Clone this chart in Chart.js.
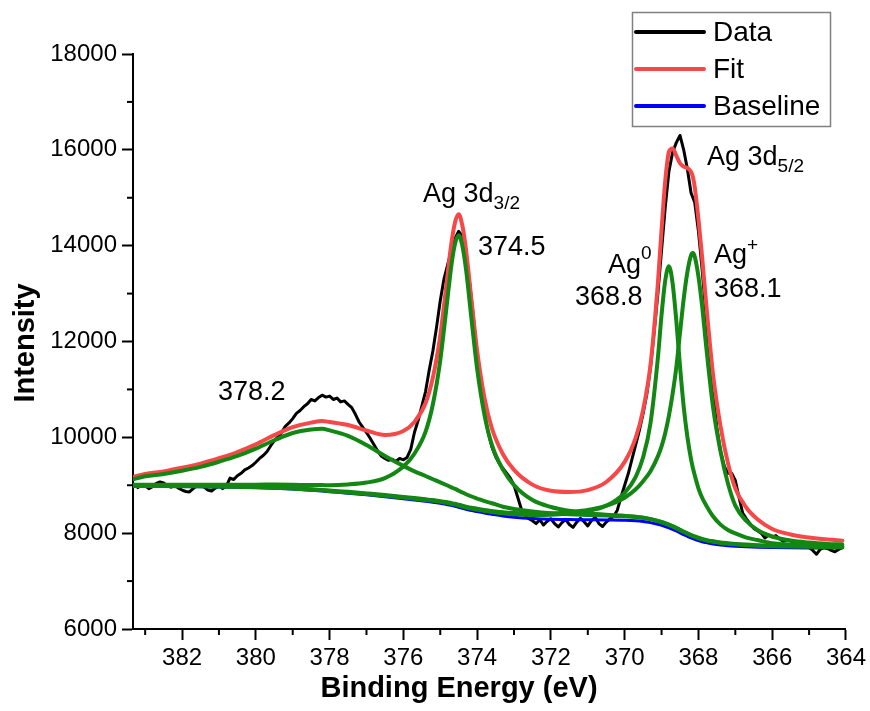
<!DOCTYPE html>
<html>
<head>
<meta charset="utf-8">
<script src="https://cdn.jsdelivr.net/npm/chart.js@4.4.1/dist/chart.umd.min.js"></script>
<style>
  html, body { margin: 0; padding: 0; background: #fff; }
  canvas { display: block; }
</style>
</head>
<body>
<canvas id="xps" width="870" height="711"></canvas>
<script>
// energies (eV) for the fitted curves
const fitEnergy = [383.3, 383, 382.5, 382, 381.5, 381, 380.5, 380, 379.5, 379,
  378.5, 378.2, 378, 377.5, 377, 376.5, 376, 375.7, 375.4, 375.2,
  375, 374.85, 374.7, 374.6, 374.5, 374.4, 374.3, 374.15, 374, 373.8,
  373.6, 373.3, 373, 372.5, 372, 371.5, 371, 370.5, 370, 369.7,
  369.5, 369.3, 369.1, 369, 368.9, 368.8, 368.7, 368.6, 368.5, 368.4,
  368.3, 368.2, 368.15, 368.1, 368, 367.9, 367.8, 367.6, 367.4, 367.2,
  367, 366.7, 366.4, 366, 365.5, 365, 364.5, 364.1];

const baseline = [8980, 8978, 8975, 8972, 8968, 8963, 8957, 8950, 8938, 8920,
  8895, 8878, 8865, 8835, 8800, 8762, 8720, 8692, 8665, 8645,
  8622, 8602, 8580, 8562, 8540, 8518, 8498, 8472, 8450, 8420,
  8395, 8360, 8333, 8305, 8290, 8284, 8280, 8276, 8270, 8260,
  8245, 8220, 8185, 8165, 8140, 8112, 8080, 8045, 8008, 7970,
  7935, 7900, 7885, 7870, 7845, 7822, 7803, 7774, 7752, 7737,
  7726, 7714, 7706, 7700, 7696, 7693, 7691, 7690];

const peak3782 = [9130, 9186, 9235, 9302, 9384, 9491, 9612, 9764, 9939, 10090,
  10164, 10178, 10144, 10031, 9840, 9612, 9404, 9290, 9193, 9126,
  9061, 9010, 8957, 8923, 8886, 8848, 8813, 8765, 8723, 8667,
  8624, 8552, 8505, 8451, 8415, 8396, 8380, 8367, 8352, 8338,
  8320, 8293, 8255, 8235, 8209, 8180, 8147, 8111, 8073, 8034,
  7998, 7962, 7946, 7931, 7905, 7881, 7861, 7831, 7807, 7791,
  7776, 7761, 7750, 7740, 7733, 7726, 7721, 7718];

const peak3745 = [9008, 9009, 9009, 9012, 9011, 9011, 9013, 9012, 9015, 9011,
  9003, 9003, 9001, 9017, 9056, 9148, 9390, 9658, 10113, 10690,
  11604, 12578, 13578, 14038, 14220, 13994, 13496, 12448, 11432, 10465,
  9843, 9326, 9003, 8691, 8546, 8466, 8416, 8384, 8361, 8342,
  8322, 8293, 8252, 8227, 8201, 8172, 8139, 8103, 8064, 8025,
  7989, 7953, 7937, 7922, 7893, 7869, 7849, 7819, 7796, 7779,
  7766, 7750, 7738, 7728, 7721, 7715, 7711, 7708];

const peak3688 = [8987, 8985, 8983, 8980, 8977, 8972, 8967, 8961, 8950, 8933,
  8909, 8893, 8880, 8851, 8817, 8781, 8743, 8717, 8692, 8675,
  8654, 8635, 8614, 8597, 8577, 8556, 8537, 8512, 8492, 8464,
  8443, 8414, 8393, 8380, 8384, 8410, 8460, 8571, 8843, 9177,
  9583, 10295, 11658, 12555, 13272, 13572, 13212, 12435, 11481, 10645,
  10010, 9538, 9359, 9208, 8937, 8739, 8595, 8347, 8178, 8065,
  7994, 7908, 7856, 7790, 7761, 7743, 7731, 7725];

const peak3681 = [8992, 8990, 8988, 8986, 8982, 8978, 8973, 8967, 8955, 8939,
  8916, 8901, 8889, 8862, 8830, 8796, 8757, 8733, 8708, 8690,
  8668, 8650, 8629, 8613, 8592, 8572, 8554, 8530, 8511, 8484,
  8464, 8435, 8419, 8406, 8409, 8439, 8483, 8574, 8741, 8916,
  9085, 9293, 9603, 9810, 10089, 10454, 10911, 11460, 12180, 12887,
  13448, 13800, 13845, 13770, 13358, 12739, 11975, 10605, 9701, 9037,
  8576, 8254, 8066, 7930, 7846, 7803, 7776, 7762];

const fitCurve = [9177, 9236, 9290, 9364, 9450, 9563, 9694, 9854, 10045, 10213,
  10307, 10341, 10319, 10256, 10143, 10051, 10134, 10322, 10711, 11246,
  12121, 13067, 14038, 14485, 14655, 14416, 13906, 12839, 11808, 10820,
  10189, 9647, 9321, 9013, 8884, 8859, 8899, 9068, 9487, 9993,
  10575, 11514, 13213, 14332, 15351, 15960, 16030, 15880, 15720, 15650,
  15620, 15540, 15432, 15221, 14558, 13762, 12871, 11280, 10226, 9461,
  8934, 8531, 8292, 8088, 7973, 7908, 7866, 7843];

// measured spectrum
const dataEnergy = [383.2, 383.1, 383.0, 382.9, 382.8, 382.7, 382.6, 382.5, 382.4, 382.3,
  382.2, 382.1, 382.0, 381.9, 381.8, 381.7, 381.6, 381.5, 381.4, 381.3,
  381.2, 381.1, 381.0, 380.9, 380.8, 380.7, 380.6, 380.5, 380.4, 380.3,
  380.2, 380.1, 380.0, 379.9, 379.8, 379.7, 379.6, 379.5, 379.4, 379.3,
  379.2, 379.1, 379.0, 378.9, 378.8, 378.7, 378.6, 378.5, 378.4, 378.3,
  378.2, 378.1, 378.0, 377.9, 377.8, 377.7, 377.6, 377.5, 377.4, 377.3,
  377.2, 377.1, 377.0, 376.9, 376.8, 376.7, 376.6, 376.5, 376.4, 376.3,
  376.2, 376.1, 376.0, 375.9, 375.8, 375.7, 375.6, 375.5, 375.4, 375.3,
  375.2, 375.1, 375.0, 374.9, 374.8, 374.7, 374.6, 374.5, 374.4, 374.3,
  374.2, 374.1, 374.0, 373.9, 373.8, 373.7, 373.6, 373.5, 373.4, 373.3,
  373.2, 373.1, 373.0, 372.9, 372.8, 372.7, 372.6, 372.5, 372.4, 372.3,
  372.2, 372.1, 372.0, 371.9, 371.8, 371.7, 371.6, 371.5, 371.4, 371.3,
  371.2, 371.1, 371.0, 370.9, 370.8, 370.7, 370.6, 370.5, 370.4, 370.3,
  370.2, 370.1, 370.0, 369.9, 369.8, 369.7, 369.6, 369.5, 369.4, 369.3,
  369.2, 369.1, 369.0, 368.9, 368.8, 368.7, 368.6, 368.5, 368.4, 368.3,
  368.2, 368.1, 368.0, 367.9, 367.8, 367.7, 367.6, 367.5, 367.4, 367.3,
  367.2, 367.1, 367.0, 366.9, 366.8, 366.7, 366.6, 366.5, 366.4, 366.3,
  366.2, 366.1, 366.0, 365.9, 365.8, 365.7, 365.6, 365.5, 365.4, 365.3,
  365.2, 365.1, 365.0, 364.9, 364.8, 364.7, 364.6, 364.5, 364.4, 364.3,
  364.2, 364.1];

const dataCounts = [8950, 9010, 8990, 8930, 8970, 9040, 9070, 9050, 8990, 8960,
  9000, 8940, 8900, 8870, 8860, 8930, 8990, 9010, 8960, 8900,
  8880, 8940, 8990, 8930, 8980, 9150, 9120, 9200, 9250, 9320,
  9360, 9410, 9480, 9560, 9620, 9700, 9820, 9930, 10010, 10100,
  10230, 10300, 10390, 10500, 10560, 10640, 10700, 10790, 10760, 10830,
  10880, 10840, 10860, 10790, 10820, 10740, 10760, 10690, 10620, 10480,
  10320, 10210, 10100, 9980, 9850, 9720, 9610, 9560, 9520, 9540,
  9500, 9560, 9530, 9580, 9750, 10100, 10350, 10650, 10950, 11400,
  11800, 12300, 12850, 13300, 13600, 13900, 14150, 14300, 14200, 13800,
  13200, 12500, 11700, 11050, 10500, 10100, 9800, 9600, 9450, 9350,
  9250, 9150, 9000, 8750, 8500, 8380, 8300, 8260, 8200, 8280,
  8170, 8250, 8300, 8200, 8130, 8220, 8290, 8180, 8120, 8230,
  8310, 8240, 8150, 8260, 8330, 8200, 8140, 8230, 8300, 8350,
  8480, 8750, 9000, 9250, 9550, 9850, 10150, 10500, 10900, 11450,
  12200, 13000, 13900, 14800, 15550, 15950, 16150, 16300, 16000, 15600,
  15100, 14900, 14300, 13500, 12600, 11700, 10900, 10200, 9700, 9400,
  9250, 9250, 9100, 8750, 8420, 8300, 8200, 8100, 8050, 8000,
  7900, 7960, 7920, 7950, 7880, 7830, 7870, 7840, 7800, 7770,
  7740, 7760, 7700, 7640, 7560, 7660, 7700, 7680, 7640, 7610,
  7660, 7700];

// axis ticks
const xMajorTicks = [382, 380, 378, 376, 374, 372, 370, 368, 366, 364];
const xMinorTicks = [383, 381, 379, 377, 375, 373, 371, 369, 367, 365];
const yMajorTicks = [6000, 8000, 10000, 12000, 14000, 16000, 18000];
const yMinorTicks = [7000, 9000, 11000, 13000, 15000, 17000];

const FONT = "'Liberation Sans', Arial, sans-serif";
const RED = 'rgb(246, 72, 72)';
const GREEN = 'rgb(19, 135, 19)';
const BLUE = '#0000ff';

const toPoints = (xs, ys) => xs.map((x, i) => ({ x: x, y: ys[i] }));

function richText(ctx, parts, x, y) {
  // parts: [text, size, dy]
  parts.forEach(function (p) {
    ctx.font = p[1] + 'px ' + FONT;
    ctx.fillText(p[0], x, y + p[2]);
    x += ctx.measureText(p[0]).width;
  });
}

const extras = {
  id: 'extras',
  afterDraw(chart) {
    const ctx = chart.ctx;
    const xs = chart.scales.x, ys = chart.scales.y, area = chart.chartArea;
    ctx.save();

    // minor ticks
    ctx.strokeStyle = '#000';
    ctx.lineWidth = 2;
    xMinorTicks.forEach(function (v) {
      const p = xs.getPixelForValue(v);
      ctx.beginPath(); ctx.moveTo(p, area.bottom); ctx.lineTo(p, area.bottom + 6); ctx.stroke();
    });
    yMinorTicks.forEach(function (v) {
      const p = ys.getPixelForValue(v);
      ctx.beginPath(); ctx.moveTo(area.left, p); ctx.lineTo(area.left - 6, p); ctx.stroke();
    });

    // axis titles
    ctx.fillStyle = '#000';
    ctx.textBaseline = 'alphabetic';
    ctx.textAlign = 'center';
    ctx.font = 'bold 29px ' + FONT;
    ctx.fillText('Binding Energy (eV)', 459, 697);
    ctx.save();
    ctx.translate(34, 343);
    ctx.rotate(-Math.PI / 2);
    ctx.fillText('Intensity', 0, 0);
    ctx.restore();

    // peak labels
    ctx.textAlign = 'left';
    richText(ctx, [['378.2', 27, 0]], 218, 400);
    richText(ctx, [['Ag 3d', 27, 0], ['3/2', 19, 7]], 423, 202);
    richText(ctx, [['374.5', 27, 0]], 478, 255);
    richText(ctx, [['Ag 3d', 27, 0], ['5/2', 19, 7]], 707, 165);
    richText(ctx, [['Ag', 27, 0], ['0', 19, -14]], 608, 273);
    richText(ctx, [['368.8', 27, 0]], 575, 305);
    richText(ctx, [['Ag', 27, 0], ['+', 19, -12]], 714, 263);
    richText(ctx, [['368.1', 27, 0]], 714, 297);

    // legend
    const items = [['Data', '#000'], ['Fit', RED], ['Baseline', BLUE]];
    ctx.strokeStyle = '#808080';
    ctx.lineWidth = 1.5;
    ctx.strokeRect(632.5, 12.5, 198, 114);
    ctx.font = '28px ' + FONT;
    ctx.textBaseline = 'middle';
    items.forEach(function (it, i) {
      const y = 32 + i * 37;
      ctx.strokeStyle = it[1];
      ctx.lineWidth = 4;
      ctx.lineCap = 'round';
      ctx.beginPath(); ctx.moveTo(636, y); ctx.lineTo(704, y); ctx.stroke();
      ctx.fillStyle = '#000';
      ctx.fillText(it[0], 713, y + 1);
    });
    ctx.restore();
  }
};

const axisCommon = {
  grid: { drawOnChartArea: false, drawTicks: true, tickLength: 11, tickWidth: 2, tickColor: '#000' },
  border: { display: true, color: '#000', width: 2 }
};

new Chart(document.getElementById('xps'), {
  type: 'line',
  data: {
    datasets: [
      { label: '378.2', data: toPoints(fitEnergy, peak3782), borderColor: GREEN, borderWidth: 4, order: 1, cubicInterpolationMode: 'monotone' },
      { label: '374.5', data: toPoints(fitEnergy, peak3745), borderColor: GREEN, borderWidth: 4, order: 2, cubicInterpolationMode: 'monotone' },
      { label: 'Ag0 368.8', data: toPoints(fitEnergy, peak3688), borderColor: GREEN, borderWidth: 4, order: 3, cubicInterpolationMode: 'monotone' },
      { label: 'Ag+ 368.1', data: toPoints(fitEnergy, peak3681), borderColor: GREEN, borderWidth: 4, order: 4, cubicInterpolationMode: 'monotone' },
      { label: 'Baseline', data: toPoints(fitEnergy, baseline), borderColor: BLUE, borderWidth: 3, order: 5, cubicInterpolationMode: 'monotone' },
      { label: 'Fit', data: toPoints(fitEnergy, fitCurve), borderColor: RED, borderWidth: 4, order: 6, cubicInterpolationMode: 'monotone' },
      { label: 'Data', data: toPoints(dataEnergy, dataCounts), borderColor: '#000', borderWidth: 3, order: 7, tension: 0 }
    ]
  },
  options: {
    responsive: false,
    animation: false,
    devicePixelRatio: 1,
    elements: {
      point: { radius: 0 },
      line: { fill: false, borderJoinStyle: 'round', borderCapStyle: 'round' }
    },
    layout: { padding: { left: 0, right: 24, top: 54, bottom: 0 } },
    plugins: { legend: { display: false }, tooltip: { enabled: false } },
    scales: {
      x: Object.assign({
        type: 'linear', reverse: true, min: 364, max: 383.33,
        afterBuildTicks: function (s) { s.ticks = xMajorTicks.map(function (v) { return { value: v }; }); },
        afterFit: function (s) { s.height = 82; },
        ticks: { color: '#000', font: { family: FONT, size: 24 }, padding: 4, maxRotation: 0, autoSkip: false,
                 callback: function (v) { return String(v); } }
      }, axisCommon),
      y: Object.assign({
        type: 'linear', min: 6000, max: 18000,
        afterBuildTicks: function (s) { s.ticks = yMajorTicks.map(function (v) { return { value: v }; }); },
        afterFit: function (s) { s.width = 133; },
        ticks: { color: '#000', font: { family: FONT, size: 24 }, padding: 5, autoSkip: false,
                 callback: function (v) { return String(v); } }
      }, axisCommon)
    }
  },
  plugins: [extras]
});
</script>
</body>
</html>
